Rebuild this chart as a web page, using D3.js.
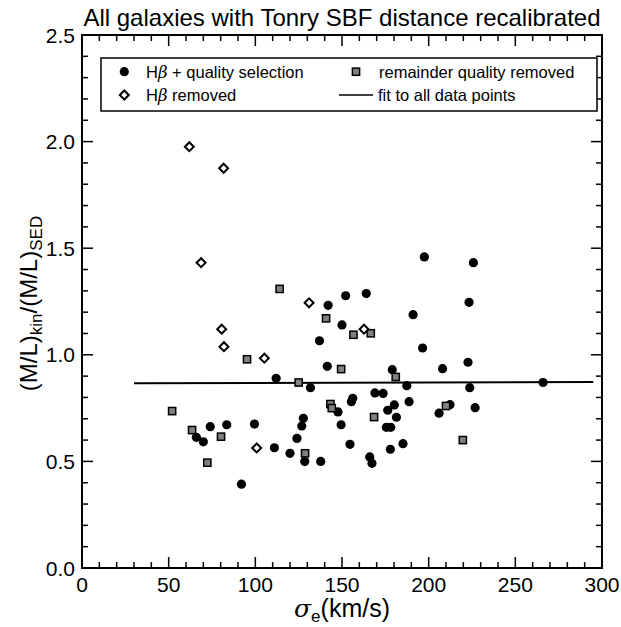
<!DOCTYPE html>
<html><head><meta charset="utf-8">
<script src="https://cdn.jsdelivr.net/npm/d3@7/dist/d3.min.js"></script>
<style>body{margin:0;background:#fff}svg{display:block}text{font-family:"Liberation Sans",Arial,Helvetica,sans-serif;fill:#000}</style>
</head><body><svg id="c" width="621" height="627"></svg>
<script>
// Hβ + quality selection (filled circles): [sigma_e, ratio]
const selSigma = [112,74,83.5,66,70,99.5,111,120,92,124,127.7,126.8,150,137,196.5,141.5,208,222.7,179,131.8,187.4,223.7,169,173.7,156.2,155.4,188.7,147.7,180.2,176.4,212.3,206,226.8,181.4,149.5,175.6,178.1,154.6,185.2,177.9,128.5,137.7,166,167.3,197.5,225.8,223.3,164,152.1,142,191,266];
const selRatio = [0.89,0.663,0.672,0.613,0.592,0.675,0.564,0.538,0.393,0.608,0.702,0.666,1.14,1.066,1.032,0.946,0.935,0.965,0.93,0.846,0.855,0.846,0.821,0.819,0.796,0.78,0.78,0.732,0.765,0.74,0.766,0.726,0.752,0.707,0.672,0.66,0.66,0.58,0.583,0.557,0.499,0.5,0.521,0.491,1.459,1.432,1.246,1.287,1.277,1.232,1.188,0.87];
// remainder quality removed (grey squares)
const remSigma = [114,95.2,125,52,63.5,80.2,72.3,140.8,156.6,166.6,149.5,181,143.3,144.1,210,168.5,219.7,128.7];
const remRatio = [1.309,0.979,0.870,0.736,0.647,0.616,0.494,1.171,1.094,1.101,0.933,0.896,0.769,0.75,0.76,0.708,0.6,0.538];
// Hβ removed (open diamonds)
const hbSigma = [61.9,81.7,68.7,80.6,81.9,105.2,100.8,131,162.7];
const hbRatio = [1.976,1.875,1.432,1.12,1.038,0.984,0.563,1.244,1.12];
// fit to all data points
const fitSigma = [30,295];
const fitRatio = [0.866,0.873];
const xTicks = [0,50,100,150,200,250,300];
const yTicks = [0.0,0.5,1.0,1.5,2.0,2.5];

const svg = d3.select("#c");
const L=82,R=602,T=35,B=568;
const x = d3.scaleLinear().domain([0,300]).range([L,R]);
const y = d3.scaleLinear().domain([0,2.5]).range([B,T]);
const g = svg.append("g");

// ticks (inward, all sides)
const xMinor = d3.range(0,301,10), yMinor = d3.range(0,26,1).map(v=>v/10);
xMinor.forEach(v=>{
  const major = v%50===0, len = major?11:6;
  g.append("line").attr("x1",x(v)).attr("x2",x(v)).attr("y1",B).attr("y2",B-len).attr("stroke","#000").attr("stroke-width",1.5);
  g.append("line").attr("x1",x(v)).attr("x2",x(v)).attr("y1",T).attr("y2",T+len).attr("stroke","#000").attr("stroke-width",1.5);
});
yMinor.forEach((v,i)=>{
  const major = i%5===0, len = major?11:6;
  g.append("line").attr("y1",y(v)).attr("y2",y(v)).attr("x1",L).attr("x2",L+len).attr("stroke","#000").attr("stroke-width",1.5);
  g.append("line").attr("y1",y(v)).attr("y2",y(v)).attr("x1",R).attr("x2",R-len).attr("stroke","#000").attr("stroke-width",1.5);
});
g.append("rect").attr("x",L).attr("y",T).attr("width",R-L).attr("height",B-T).attr("fill","none").attr("stroke","#000").attr("stroke-width",2);

xTicks.forEach(v=>g.append("text").attr("x",x(v)).attr("y",B+24).attr("text-anchor","middle").attr("font-size",21).text(v));
yTicks.forEach(v=>g.append("text").attr("x",L-7).attr("y",y(v)+7.5).attr("text-anchor","end").attr("font-size",21).text(v.toFixed(1)));

// title & labels
svg.append("text").attr("x",(L+R)/2).attr("y",26).attr("text-anchor","middle").attr("font-size",24).text("All galaxies with Tonry SBF distance recalibrated");
const xl = svg.append("text").attr("x",(L+R)/2).attr("y",617).attr("text-anchor","middle").attr("font-size",25);
xl.append("tspan").attr("font-style","italic").attr("font-family","DejaVu Serif").text("σ");
xl.append("tspan").attr("font-size",17).attr("dy",5).text("e");
xl.append("tspan").attr("dy",-5).text("(km/s)");
const yl = svg.append("text").attr("transform",`translate(37,${(T+B)/2+2}) rotate(-90)`).attr("text-anchor","middle").attr("font-size",24);
yl.append("tspan").text("(M/L)");
yl.append("tspan").attr("font-size",17).attr("dy",5).text("kin");
yl.append("tspan").attr("dy",-5).text("/(M/L)");
yl.append("tspan").attr("font-size",17).attr("dy",5).text("SED");

// fit line
svg.append("line").attr("x1",x(fitSigma[0])).attr("y1",y(fitRatio[0])).attr("x2",x(fitSigma[1])).attr("y2",y(fitRatio[1])).attr("stroke","#000").attr("stroke-width",2);

// points
const sel = selSigma.map((s,i)=>[s,selRatio[i]]);
const rem = remSigma.map((s,i)=>[s,remRatio[i]]);
const hb = hbSigma.map((s,i)=>[s,hbRatio[i]]);
svg.append("g").selectAll("circle").data(sel).join("circle").attr("cx",d=>x(d[0])).attr("cy",d=>y(d[1])).attr("r",4.6).attr("fill","#000");
svg.append("g").selectAll("rect").data(rem).join("rect").attr("x",d=>x(d[0])-3.6).attr("y",d=>y(d[1])-3.6).attr("width",7.2).attr("height",7.2).attr("fill","#808080").attr("stroke","#000").attr("stroke-width",1.5);
const dia = d3.symbol().type(d3.symbolSquare).size(40);
svg.append("g").selectAll("path").data(hb).join("path").attr("d",dia).attr("transform",d=>`translate(${x(d[0])},${y(d[1])}) rotate(45)`).attr("fill","#fff").attr("stroke","#000").attr("stroke-width",2);

// legend
const lg = svg.append("g");
lg.append("rect").attr("x",101).attr("y",58).attr("width",496).attr("height",53).attr("fill","#fff").attr("stroke","#000").attr("stroke-width",1.5);
lg.append("circle").attr("cx",124.3).attr("cy",71.7).attr("r",4.6).attr("fill","#000");
const t1 = lg.append("text").attr("x",146).attr("y",77.5).attr("font-size",16.5);
t1.append("tspan").text("H"); t1.append("tspan").attr("font-style","italic").attr("font-family","DejaVu Serif").text("β"); t1.append("tspan").text(" + quality selection");
lg.append("path").attr("d",dia).attr("transform","translate(124.3,95) rotate(45)").attr("fill","#fff").attr("stroke","#000").attr("stroke-width",2);
const t2 = lg.append("text").attr("x",146).attr("y",101).attr("font-size",16.5);
t2.append("tspan").text("H"); t2.append("tspan").attr("font-style","italic").attr("font-family","DejaVu Serif").text("β"); t2.append("tspan").text(" removed");
lg.append("rect").attr("x",352.4).attr("y",68.1).attr("width",7.2).attr("height",7.2).attr("fill","#808080").attr("stroke","#000").attr("stroke-width",1.5);
lg.append("text").attr("x",379).attr("y",77.5).attr("font-size",16.5).text("remainder quality removed");
lg.append("line").attr("x1",339).attr("x2",373).attr("y1",95).attr("y2",95).attr("stroke","#000").attr("stroke-width",1.5);
lg.append("text").attr("x",378).attr("y",101).attr("font-size",16.5).text("fit to all data points");
</script></body></html>
